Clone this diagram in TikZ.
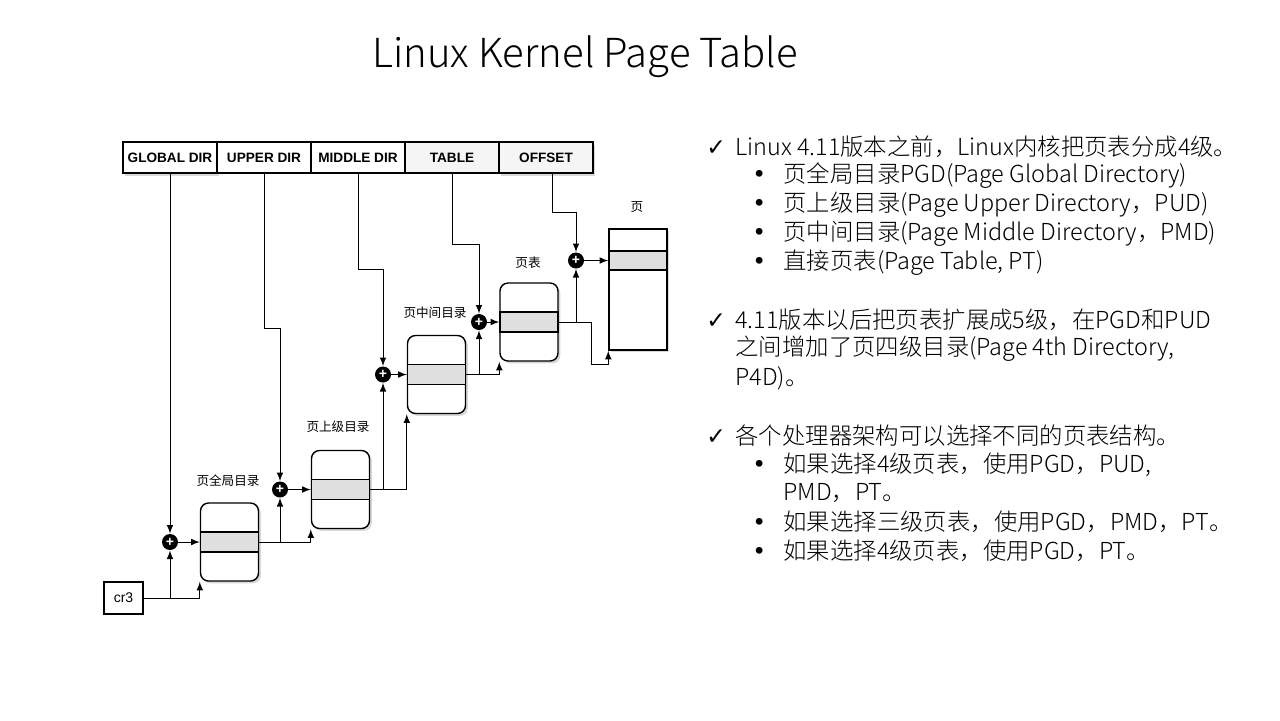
\documentclass[tikz,border=0pt]{standalone}
\usepackage{fontspec}
\setmainfont{Noto Sans CJK SC}
\newfontfamily\lightfont{Noto Sans CJK SC Light}
\newfontfamily\hfont{Liberation Sans}
\newfontfamily\symfont{DejaVu Sans}
\usetikzlibrary{positioning,shadows}
\newcommand\chk{\makebox[14.5pt][l]{\symfont ✓}}
\newcommand\bul{\hspace*{23pt}\makebox[15.5pt][l]{\symfont •}}

\begin{document}
\begin{tikzpicture}[x=0.5pt,y=-0.5pt,
	field/.style={draw,line width=0.7pt,fill=white,minimum width=47pt,minimum height=15.5pt,inner sep=0pt,outer sep=0pt,font=\hfont\bfseries\fontsize{6.8}{7}\selectfont},
	tbl/.style={draw,line width=0.7pt,fill=white,rounded corners=4pt,minimum width=29pt,minimum height=39pt,inner sep=0pt,drop shadow={shadow xshift=1.2pt,shadow yshift=-1.2pt,opacity=0.3}},
	stripe/.style={draw,line width=0.7pt,fill=gray!25,minimum width=29pt,minimum height=10pt,inner sep=0pt},
	adder/.style={circle,fill=black,minimum size=8pt,inner sep=0pt,text=white,font=\hfont\bfseries\fontsize{7}{7}\selectfont},
	lab/.style={font=\fontsize{6.3}{7}\selectfont},
	arr/.style={-latex,line width=0.5pt},
	txt/.style={anchor=west,inner sep=0pt,font=\lightfont\fontsize{11.7}{13}\selectfont}]
		\fill[white](0,0)rectangle(1280,720);
		\useasboundingbox(0,0)rectangle(1280,720);
		\node[font=\lightfont\fontsize{20}{23}\selectfont] (title) at(585,57){Linux Kernel Page Table};
		\node[field,drop shadow={shadow xshift=1.2pt,shadow yshift=-1.5pt,opacity=0.3}] (f1) at(170,157.5){GLOBAL DIR};
		\node[field,right=0pt of f1] (f2){UPPER DIR};
		\node[field,right=0pt of f2] (f3){MIDDLE DIR};
		\node[field,fill=gray!8,right=0pt of f3] (f4){TABLE};
		\node[field,fill=gray!8,right=0pt of f4,drop shadow={shadow xshift=1.2pt,shadow yshift=-1.5pt,opacity=0.3}] (f5){OFFSET};
		\node[draw,line width=0.6pt,fill=white,minimum width=19.5pt,minimum height=16pt,inner sep=0pt,font=\hfont\fontsize{7}{8}\selectfont] (cr3) at(123.5,598){cr3};
		\node[tbl] (pgd) at(229.5,542){};
		\node[tbl] (pud) at(340.5,489.5){};
		\node[tbl] (pmd) at(436.5,374.5){};
		\node[tbl] (pt) at(529,322){};
		\node[tbl,rounded corners=0pt,minimum height=60.5pt] (page) at(638,289.5){};
		\node[stripe] (pgdrow) at(pgd){};
		\node[stripe] (pudrow) at(pud){};
		\node[stripe] (pmdrow) at(pmd){};
		\node[stripe] (ptrow) at(pt){};
		\node[stripe,minimum height=9.5pt] (pagerow) at(638,260.5){};
		\node[adder] (add1) at(170,542){+};
		\node[adder] (add2) at(280,489.5){+};
		\node[adder] (add3) at(383,374.5){+};
		\node[adder] (add4) at(479,322){+};
		\node[adder] (add5) at(576,260.5){+};
		\node[lab] (pgdlab) at(228,481){页全局目录};
		\node[lab] (pudlab) at(338,427){页上级目录};
		\node[lab] (pmdlab) at(435,313){页中间目录};
		\node[lab] (ptlab) at(528,263){页表};
		\node[lab] (pagelab) at(637,207){页};
		\draw[arr](f1.south)--(add1.north);
		\draw[arr](f2.south)--++(0,155)-|(add2.north);
		\draw[arr](f3.south)--++(0,96)-|(add3.north);
		\draw[arr](f4.south)--++(0,71)-|(add4.north);
		\draw[arr]([xshift=3pt]f5.south)--++(0,39)-|(add5.north);
		\draw[arr](cr3.east)-|(add1.south);
		\draw[arr](cr3.east)-|(pgd.south west);
		\draw[arr](add1)--(pgd);
		\draw[arr](pgd.east)-|(add2.south);
		\draw[arr](pgd.east)-|(pud.south west);
		\draw[arr](add2)--(pud);
		\draw[arr](pud.east)-|(add3.south);
		\draw[arr](pud.east)-|(pmd.south west);
		\draw[arr](add3)--(pmd);
		\draw[arr](pmd.east)-|(add4.south);
		\draw[arr](pmd.east)-|(pt.south west);
		\draw[arr](add4)--(pt);
		\draw[arr](pt.east)-|(add5.south);
		\draw[arr](pt.east)-|++(33,42)-|(page.south west);
		\draw[arr](add5)--(pagerow);
		\node[txt] (l1) at(706,147){\chk Linux 4.11版本之前，Linux内核把页表分成4级。};
		\node[txt] (l2) at(706,176){\bul 页全局目录PGD(Page Global Directory)};
		\node[txt] (l3) at(706,205){\bul 页上级目录(Page Upper Directory，PUD)};
		\node[txt] (l4) at(706,234){\bul 页中间目录(Page Middle Directory，PMD)};
		\node[txt] (l5) at(706,263){\bul 直接页表(Page Table, PT)};
		\node[txt] (l6) at(706,320){\chk 4.11版本以后把页表扩展成5级，在PGD和PUD};
		\node[txt] (l7) at(735,349){之间增加了页四级目录(Page 4th Directory,};
		\node[txt] (l8) at(735,378){P4D)。};
		\node[txt] (l9) at(706,436){\chk 各个处理器架构可以选择不同的页表结构。};
		\node[txt] (l10) at(706,465){\bul 如果选择4级页表，使用PGD，PUD,};
		\node[txt] (l11) at(783,493){PMD，PT。};
		\node[txt] (l12) at(706,522){\bul 如果选择三级页表，使用PGD，PMD，PT。};
		\node[txt] (l13) at(706,551){\bul 如果选择4级页表，使用PGD，PT。};
\end{tikzpicture}
\end{document}
